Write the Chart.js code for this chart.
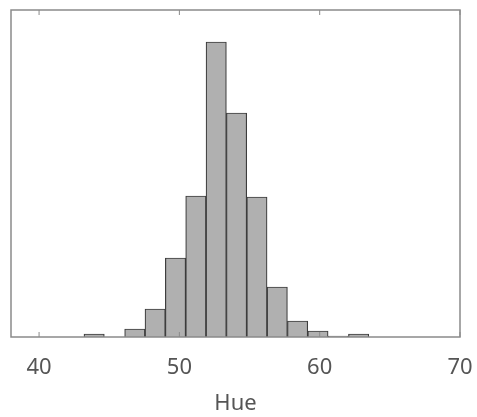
<!DOCTYPE html>
<html>
<head>
<meta charset="utf-8">
<script src="https://cdn.jsdelivr.net/npm/chart.js@4"></script>
<style>
html,body{margin:0;padding:0;background:#fff;}
#wrap{width:477px;height:417px;}
</style>
</head>
<body>
<div id="wrap"><canvas id="c" width="477" height="417"></canvas></div>
<script>
// Histogram bin centers (Hue) and counts
const binCenters = [43.925, 45.375, 46.825, 48.275, 49.725, 51.175, 52.625, 54.075, 55.525, 56.975, 58.425, 59.875, 61.325, 62.775];
const counts     = [3, 0, 8, 28, 79, 141, 295, 224, 140, 50, 16, 6, 1, 3];
const tickValues = [40, 50, 60, 70];
const xLabel = 'Hue';

const framePlugin = {
  id: 'frame',
  afterDraw(chart) {
    const {ctx, chartArea: a, scales} = chart;
    ctx.save();
    ctx.strokeStyle = '#8a8a8a';
    ctx.lineWidth = 1.5;
    ctx.strokeRect(a.left, a.top, a.right - a.left, a.bottom - a.top);
    ctx.lineWidth = 1;
    tickValues.forEach(v => {
      const x = scales.x.getPixelForValue(v);
      ctx.beginPath();
      ctx.moveTo(x, a.top); ctx.lineTo(x, a.top + 5);
      ctx.moveTo(x, a.bottom); ctx.lineTo(x, a.bottom - 5);
      ctx.stroke();
    });
    ctx.restore();
  }
};

new Chart(document.getElementById('c'), {
  type: 'bar',
  data: {
    datasets: [{
      data: binCenters.map((x, i) => ({x: x, y: counts[i]})),
      backgroundColor: '#b0b0b0',
      borderColor: '#3c3c3c',
      borderWidth: 1.2,
      barPercentage: 1.0,
      categoryPercentage: 1.0
    }]
  },
  options: {
    responsive: false,
    animation: false,
    events: [],
    layout: {padding: {left: 11, right: 17, top: 10, bottom: 0}},
    plugins: {legend: {display: false}, tooltip: {enabled: false}},
    scales: {
      x: {
        type: 'linear',
        offset: false,
        min: 38, max: 70,
        grid: {display: false, offset: false},
        border: {display: false},
        afterBuildTicks(s) { s.ticks = tickValues.map(v => ({value: v})); },
        afterFit(s) { s.height = 80; s.paddingLeft = 0; s.paddingRight = 0; },
        ticks: {
          color: '#555',
          padding: 10,
          maxRotation: 0,
          font: {family: 'Noto Sans', size: 22}
        },
        title: {
          display: true,
          text: xLabel,
          color: '#555',
          font: {family: 'Noto Sans', size: 22},
          padding: {top: 0, bottom: 0}
        }
      },
      y: {
        display: false,
        min: 0, max: 327
      }
    }
  },
  plugins: [framePlugin]
});
</script>
</body>
</html>
